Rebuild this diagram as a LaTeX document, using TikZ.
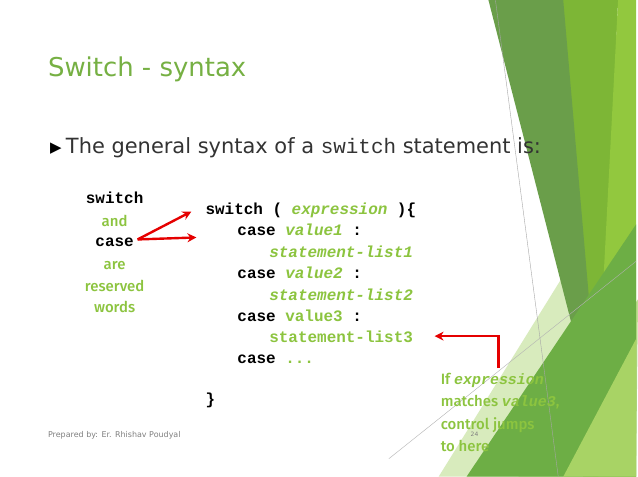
\documentclass[tikz,border=0pt]{standalone}
\usepackage{fontspec}
\usetikzlibrary{arrows.meta}
\setmainfont{DejaVu Sans}
\newfontfamily\cour{Liberation Mono}
\newfontfamily\lab{Fira Sans Medium}
\begin{document}
\begin{tikzpicture}[x=1pt,y=-1pt,
  code/.style={anchor=base west,inner sep=0pt,font=\cour\bfseries\fontsize{16}{18}\selectfont},
  lbl/.style={anchor=base,inner sep=0pt,font=\lab\fontsize{15}{17}\selectfont,text=gtxt},
  red arrow/.style={draw=red!90!black,line width=2.4pt,-{Stealth[length=9pt,width=9pt]}}]
\definecolor{gtxt}{HTML}{8CC43F}
\definecolor{gtitle}{HTML}{76B043}
\definecolor{g1}{HTML}{6A9E4A}
\definecolor{g2}{HTML}{7DB636}
\definecolor{g3}{HTML}{92C83E}
\definecolor{g4}{HTML}{6DAE45}
\definecolor{pale}{HTML}{D8EBBD}
\definecolor{pale2}{HTML}{BEDD92}
\fill[white] (0,0) rectangle (638,478);
% decoration
\fill[pale] (440,478) -- (600,220) -- (610,478) -- cycle;
\fill[pale2] (520,478) -- (640,300) -- (638,478) -- cycle;
\fill[g2] (563,0) -- (620,0) -- (600,478) -- (585,478) -- cycle;
\fill[g1] (490,0) -- (565,0) -- (603,440) -- cycle;
\fill[g3] (620,0) -- (638,0) -- (638,478) -- (595,478) -- cycle;
\fill[g4] (468,478) -- (638,225) -- (638,478) -- cycle;
\fill[g3!80!white] (565,478) -- (638,340) -- (638,478) -- cycle;
\draw[gray!70,line width=0.4pt] (497,0) -- (560,478);
\draw[gray!60,line width=0.4pt] (390,460) -- (638,262);
% title
\node[anchor=base west,inner sep=0pt,text=gtitle,font=\fontsize{26}{30}\selectfont] (title) at (48,77) {Switch - syntax};
\node[anchor=base west,inner sep=0pt,font=\fontsize{15}{18}\selectfont] (bul) at (50,153) {▶};
\node[anchor=base west,inner sep=0pt,text=black!80,font=\fontsize{21}{24}\selectfont] (intro) at (66,154) {The general syntax of a {\cour switch} statement is:};
% left labels
\node[code,anchor=base] (sw) at (115,204) {switch};
\node[lbl] (and) at (115,227) {and};
\node[code,anchor=base] (cs) at (115,247) {case};
\node[lbl] (are) at (115,270) {are};
\node[lbl] (res) at (115,292) {reserved};
\node[lbl] (wrd) at (115,313) {words};
% code
\node[code] (l1) at (206,215) {switch ( \textcolor{gtxt}{\itshape expression} )\{};
\node[code] (l2) at (238,236) {case \textcolor{gtxt}{\itshape value1} :};
\node[code,text=gtxt] (l3) at (270,258) {\itshape statement-list1};
\node[code] (l4) at (238,279) {case \textcolor{gtxt}{\itshape value2} :};
\node[code,text=gtxt] (l5) at (270,301) {\itshape statement-list2};
\node[code] (l6) at (238,322) {case \textcolor{gtxt}{value3} :};
\node[code,text=gtxt] (l7) at (270,343) {statement-list3};
\node[code] (l8) at (238,364) {case \textcolor{gtxt}{ ...}};
\node[code] (l9) at (206,406) {\}};
% arrows
\coordinate (c1) at (138,240);
\coordinate (t1) at (192,212);
\coordinate (t2) at (197,238);
\draw[red arrow] (c1) -- (t1);
\draw[red arrow] (c1) -- (t2);
\coordinate (r1) at (500,369);
\coordinate (r2) at (500,337);
\coordinate (r3) at (436,337);
\draw[red arrow] (r1) -- (r2) -- (r3);
% note
\node[lbl,anchor=base west] (n1) at (442,386) {If {\cour\bfseries\itshape expression}};
\node[lbl,anchor=base west] (n2) at (442,408) {matches {\cour\bfseries\itshape value3},};
\node[lbl,anchor=base west] (n3) at (442,431) {control jumps};
\node[lbl,anchor=base west] (n4) at (442,453) {to here};
\node[anchor=base,inner sep=0pt,text=gray,font=\fontsize{6}{7}\selectfont] (pg) at (476,438) {24};
\node[anchor=base west,inner sep=0pt,text=gray,font=\fontsize{8}{9}\selectfont] (foot) at (48,439) {Prepared by: Er. Rhishav Poudyal};
\end{tikzpicture}
\end{document}
